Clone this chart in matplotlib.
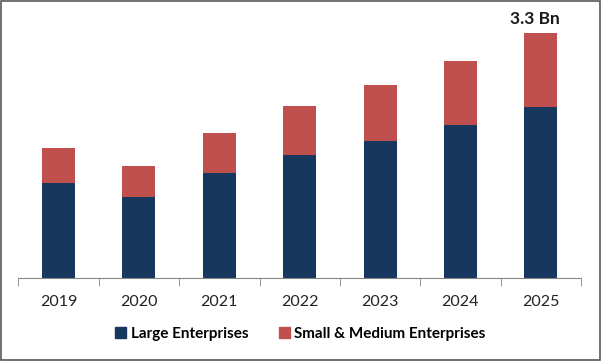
import matplotlib.pyplot as plt
from matplotlib.patches import Rectangle, Patch
import numpy as np

years = ['2019', '2020', '2021', '2022', '2023', '2024', '2025']
large = [1.29, 1.10, 1.42, 1.66, 1.85, 2.07, 2.31]
sme = [0.47, 0.41, 0.54, 0.66, 0.75, 0.86, 0.99]
total_label = '3.3 Bn'

navy = '#17375E'
red = '#C0504D'

plt.rcParams['font.family'] = ['Lato', 'DejaVu Sans']

fig = plt.figure(figsize=(6.01, 3.61), dpi=100)
ax = fig.add_axes([18.4 / 601, 1 - 278.3 / 361, (581 - 18.4) / 601, (278.3 - 33.3) / 361])

x = np.arange(len(years))
ax.bar(x, large, width=0.41, color=navy, label='Large Enterprises')
ax.bar(x, sme, width=0.41, bottom=large, color=red, label='Small & Medium Enterprises')

ax.set_xlim(-0.5, len(years) - 0.5)
ax.set_ylim(0, large[-1] + sme[-1])

# value label on the last bar
ax.text(x[-1] - 0.07, large[-1] + sme[-1] + 0.09, total_label, ha='center', va='bottom',
        fontsize=12.5, fontweight='bold', color='#1a1a1a')

for s in ['top', 'right', 'left']:
    ax.spines[s].set_visible(False)
ax.spines['bottom'].set_color('#868686')
ax.set_yticks([])

ax.set_xticks(x)
ax.set_xticklabels(years, fontsize=11.5, color='#222222')
ax.tick_params(axis='x', which='major', length=0, pad=12)
ax.set_xticks(np.arange(-0.5, len(years)), minor=True)
ax.tick_params(axis='x', which='minor', length=6, color='#868686')

handles = [Patch(color=navy), Patch(color=red)]
leg = fig.legend(handles, ['Large Enterprises', 'Small & Medium Enterprises'],
                 loc='center', bbox_to_anchor=(0.5, 1 - 334 / 361), ncol=2,
                 frameon=False, handlelength=0.7, handleheight=0.7,
                 handletextpad=0.3, columnspacing=2.0,
                 prop={'weight': 'bold', 'size': 11})

# outer frame
fig.patches.append(Rectangle((0.001, 0.002), 0.997, 0.996, transform=fig.transFigure,
                             fill=False, edgecolor='#595959', linewidth=1.2))

fig.savefig('out.png', dpi=100)
